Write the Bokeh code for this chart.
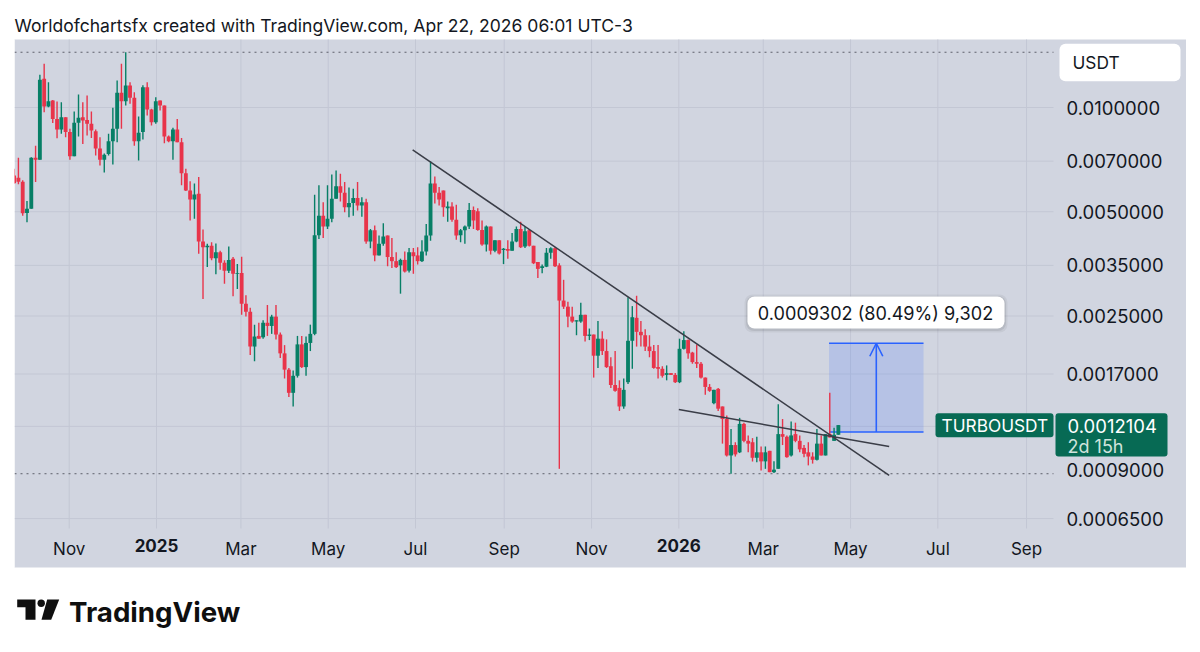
import numpy as np
import pandas as pd
from bokeh.embed import file_html
from bokeh.models import (Arrow, BoxAnnotation, ColumnDataSource, FixedTicker, Label,
                          LinearAxis, LogAxis, OpenHead, PolyAnnotation, PrintfTickFormatter, Range1d)
from bokeh.plotting import figure
from bokeh.resources import INLINE

PRICE_UNIT = 1e-4
first_bar = "2024-09-23 12:00"

opens = [63.6,62.7,61.0,49.6,51.0,71.6,70.6,121.0,100.7,104.7,
92.7,86.4,93.8,84.9,72.3,90.3,93.8,92.1,89.7,85.4,
76.2,70.6,73.4,79.9,86.8,110.3,104.3,115.8,106.7,79.9,
84.9,114.4,98.7,90.7,104.7,101.3,82.5,79.9,86.4,79.4,
64.6,57.6,54.2,56.4,41.0,39.5,39.9,36.7,38.2,35.6,
33.8,36.6,33.1,33.3,27.1,25.7,20.4,21.9,21.7,23.9,
23.4,24.9,22.1,19.5,17.5,15.0,16.8,20.7,17.8,20.9,
22.2,42.8,48.7,45.3,47.7,54.5,59.2,56.7,51.5,53.0,
54.8,52.1,53.3,41.0,44.2,37.4,40.4,42.7,37.0,36.0,
35.0,36.3,33.8,38.2,37.4,36.0,38.4,42.7,60.3,56.7,
57.6,51.2,51.8,47.4,42.8,44.2,45.3,50.6,50.2,44.3,
40.2,45.3,38.6,41.4,38.8,39.0,38.6,41.0,44.6,39.7,
44.2,39.9,35.8,34.4,34.7,38.1,39.2,35.0,27.7,26.6,
24.9,24.1,24.1,25.2,21.9,22.1,19.2,21.5,19.8,17.9,
15.8,15.5,13.7,16.1,21.2,24.7,22.5,22.0,20.4,19.8,
17.8,17.6,16.9,17.1,16.9,16.1,20.1,21.3,19.6,18.4,
18.2,16.6,15.6,14.0,15.4,13.7,12.6,9.89,10.6,10.1,
12.2,10.9,10.8,9.74,10.1,9.51,10.2,8.85,9.05,11.4,
11.2,9.89,11.4,10.9,10.4,10.1,9.82,9.61,10.7,9.89,
11.4,10.9,11.35]

highs = [66.5,71.6,61.6,53.7,71.8,77.6,124.3,133.7,118.3,105.2,
104.1,103.6,93.8,86.8,97.4,109.0,103.6,108.3,97.4,86.4,
82.1,73.7,84.0,99.8,119.7,133.7,144.4,118.3,110.7,94.2,
116.0,118.3,99.1,107.1,104.7,101.3,83.0,87.4,92.7,81.7,
66.5,61.2,60.3,63.0,44.4,40.4,40.8,40.5,38.6,36.2,
39.7,37.0,35.3,37.1,28.7,26.4,23.6,23.9,24.3,26.9,
25.2,26.9,22.4,20.6,17.7,17.4,21.9,21.9,21.8,23.6,
56.0,59.6,53.3,59.6,64.0,65.8,64.4,60.9,58.7,58.3,
60.9,55.1,54.5,44.6,45.6,42.7,46.3,42.7,42.0,38.2,
36.6,38.4,39.3,39.3,39.5,41.4,46.1,70.0,63.2,58.9,
57.6,53.5,53.3,52.4,44.6,45.6,53.0,51.8,51.2,47.2,
45.6,45.3,41.4,41.4,39.3,41.4,43.4,45.3,46.8,45.3,
44.6,39.9,35.8,35.2,39.3,39.5,39.5,35.5,31.8,27.5,
26.6,24.3,27.3,25.2,23.0,22.1,24.2,22.6,21.4,19.0,
19.8,16.3,16.5,28.3,26.7,28.6,24.2,22.9,22.0,20.6,
20.6,17.9,18.0,17.1,17.1,21.5,22.6,21.4,19.7,20.7,
18.4,16.6,15.9,15.3,15.5,13.7,12.9,11.8,10.8,12.7,
12.3,11.3,11.1,11.2,10.5,10.5,10.2,9.51,13.9,12.6,
11.3,12.4,12.3,11.3,10.6,10.8,10.1,11.8,11.3,11.4,
15.0,11.9,12.104]

lows = [60.3,60.0,48.7,46.6,51.0,60.9,70.6,96.9,100.2,90.2,
81.5,84.0,82.1,70.6,72.3,82.5,78.5,83.0,81.7,72.7,
68.0,64.9,72.7,68.4,79.4,86.8,101.3,102.5,77.6,70.3,
80.9,94.8,88.7,89.7,98.0,78.9,79.4,70.6,79.4,59.6,
57.4,47.2,47.7,37.8,28.0,34.6,36.2,33.0,34.0,31.0,
33.3,28.5,29.9,25.2,24.9,19.3,18.5,21.5,21.5,21.9,
22.2,21.4,18.9,16.5,14.6,13.7,16.6,17.7,16.8,19.8,
22.0,41.7,42.0,44.6,46.6,54.5,53.5,49.8,48.2,48.7,
50.4,48.4,40.4,39.2,36.0,37.4,39.9,34.8,34.4,34.4,
29.0,33.4,33.4,33.1,35.2,35.8,37.4,41.2,52.8,52.1,
48.4,46.8,46.8,41.5,40.8,40.4,44.6,44.6,44.1,39.9,
38.4,37.6,38.2,37.6,35.3,36.6,38.6,40.8,39.3,39.3,
39.7,35.3,32.2,33.2,34.6,36.6,34.6,9.05,26.2,23.2,
23.9,22.0,23.9,21.1,21.3,16.6,17.7,19.3,17.7,15.5,
15.1,13.3,13.5,15.9,17.6,20.4,20.4,19.8,19.0,17.6,
16.5,16.6,16.3,16.9,16.0,16.0,20.0,18.8,18.2,17.7,
16.5,14.8,15.1,13.9,13.3,10.7,9.82,8.76,9.82,10.05,
10.8,10.1,9.50,9.46,8.95,9.05,8.85,8.80,9.05,10.6,
9.74,9.82,10.8,10.1,9.78,9.26,9.37,9.57,9.89,9.89,
11.15,10.9,11.35]

closes = [60.4,61.0,49.5,51.0,71.6,70.6,120.2,100.7,104.3,92.7,
86.4,93.8,84.9,72.3,90.3,93.4,91.7,89.7,85.8,76.2,
70.6,73.1,79.9,86.8,110.3,104.3,115.8,106.7,79.9,84.5,
114.4,98.7,90.7,104.3,101.3,82.5,79.9,86.4,79.4,64.6,
57.6,54.2,56.1,41.0,39.5,39.9,36.7,38.2,35.6,33.8,
36.3,33.1,33.3,27.1,25.7,20.4,21.8,21.5,23.9,23.4,
24.9,22.1,19.5,17.5,15.0,16.8,20.7,17.8,20.9,22.2,
42.8,48.7,45.3,47.7,54.5,59.2,56.7,51.5,53.0,54.8,
52.1,53.3,41.0,44.2,37.4,40.4,42.4,37.0,36.0,34.6,
36.3,33.6,38.2,37.2,36.0,38.4,42.7,60.3,56.7,54.2,
51.5,51.8,47.4,42.7,44.2,45.3,50.6,47.2,44.3,40.2,
45.3,38.6,41.4,37.9,39.1,38.6,41.0,44.6,39.5,43.9,
39.9,35.5,34.2,34.8,38.1,39.2,34.8,27.7,26.6,24.9,
24.1,24.3,25.2,21.9,22.1,19.2,21.5,19.8,17.8,15.8,
15.2,13.7,15.3,21.2,24.8,22.5,22.0,20.4,19.8,17.7,
17.6,16.8,17.1,16.9,16.1,20.1,21.3,19.5,18.4,18.2,
16.6,15.6,15.2,15.3,13.5,12.6,9.89,10.6,9.96,12.2,
10.9,10.7,9.74,10.1,9.51,10.1,8.85,9.0,11.4,11.2,
9.78,11.3,10.9,10.3,10.0,9.82,9.61,10.7,9.89,11.4,
11.15,11.35,12.104]

price_ticks = [0.01, 0.007, 0.005, 0.0035, 0.0025, 0.0017, 0.0009, 0.00065]
grid_prices = [0.01, 0.007, 0.005, 0.0035, 0.0025, 0.0017, 0.0012, 0.00065]
month_ticks = ["2024-11-01", "2025-03-01", "2025-05-01", "2025-07-01", "2025-09-01", "2025-11-01",
               "2026-03-01", "2026-05-01", "2026-07-01", "2026-09-01"]
month_labels = ["Nov", "Mar", "May", "Jul", "Sep", "Nov", "Mar", "May", "Jul", "Sep"]
year_ticks = ["2025-01-01", "2026-01-01"]
year_labels = ["2025", "2026"]

high_price = 144.4
low_price = 8.76
trend_a_dates = ["2025-06-29", "2026-05-28"]
trend_a_prices = [75.5, 8.67]
trend_b_dates = ["2026-01-01", "2026-05-28"]
trend_b_prices = [13.42, 10.5]
long_dates = ["2026-04-16", "2026-06-21"]
long_arrow_date = "2026-05-19"
long_entry = 11.557
long_target = 20.859
last_price_text = "0.0012104"

DAY_MS = 86400000
PX_PER_DAY = 1.431
PX_PER_LN = 150.4
GREEN = "#077f66"
RED = "#e8344a"
TAG = "#076a54"
BLUE = "#2962ff"
PANEL = "#d1d5e0"
GRID = "#c3c7d4"
INK = "#131722"
FONT = "Inter"
W, H = 1200, 652


def ms(s):
    return pd.Timestamp(s).value // 10**6


def time_at(px):
    return ms("2025-01-01") + (px - 156) / PX_PER_DAY * DAY_MS


def price_at(py):
    return 0.01 * np.exp(-(py - 107) / PX_PER_LN)


def sx(x):
    return x


def sy(y):
    return H - y


dates = pd.date_range(first_bar, periods=len(closes), freq="3D")
o, h, l, c = [np.array(a) * PRICE_UNIT for a in (opens, highs, lows, closes)]
src = ColumnDataSource(dict(x=dates, o=o, h=h, l=l, c=c,
                            color=[GREEN if b >= a else RED for a, b in zip(o, c)]))

p = figure(width=W, height=H, output_backend="svg", toolbar_location=None,
           x_axis_type="datetime", y_axis_type="log", x_axis_location=None, y_axis_location=None,
           x_range=Range1d(time_at(0), time_at(W)),
           y_range=Range1d(price_at(H), price_at(0)),
           min_border=0, min_border_left=0, min_border_right=0, min_border_top=0, min_border_bottom=0,
           background_fill_color="white", border_fill_color="white", outline_line_color=None)
p.grid.visible = False


def box(x0, x1, y0, y1, color, alpha=1.0, radius=0, level="annotation"):
    b = BoxAnnotation(left=sx(x0), right=sx(x1), top=sy(y0), bottom=sy(y1),
                      left_units="screen", right_units="screen", top_units="screen", bottom_units="screen",
                      fill_color=color, fill_alpha=alpha, line_color=None, border_radius=radius,
                      level=level, editable=False)
    p.add_layout(b)
    return b


def text(x, y, s, size, color=INK, align="left", style="normal", level="overlay"):
    p.add_layout(Label(x=sx(x), y=sy(y), x_units="screen", y_units="screen", text=s,
                       text_font=FONT, text_font_size=f"{size}px", text_color=color,
                       text_align=align, text_baseline="middle", text_font_style=style, level=level))


# panel and grid lines
box(14, 1185.5, 39, 567, PANEL, level="image")
v_ticks = [ms(d) for d in month_ticks + year_ticks]
p.segment(x0=v_ticks, x1=v_ticks, y0=[price_at(528)] * len(v_ticks), y1=[price_at(39)] * len(v_ticks),
          line_color=GRID, line_width=1, level="underlay")
p.segment(x0=[time_at(14)] * len(grid_prices), x1=[time_at(1053)] * len(grid_prices),
          y0=grid_prices, y1=grid_prices, line_color=GRID, line_width=1, level="underlay")

# axes
yaxis = LogAxis(ticker=FixedTicker(ticks=price_ticks), formatter=PrintfTickFormatter(format="%.7f"),
                fixed_location=time_at(1055),
                axis_line_color=None, major_tick_line_color=None, minor_tick_line_color=None,
                major_label_standoff=5, major_label_text_font=FONT, major_label_text_font_size="18.5px",
                major_label_text_color=INK)
p.add_layout(yaxis, "right")
xfix = price_at(532)
xaxis = LinearAxis(ticker=FixedTicker(ticks=[ms(d) for d in month_ticks]),
                   major_label_overrides={ms(d): s for d, s in zip(month_ticks, month_labels)},
                   fixed_location=xfix, axis_line_color=None, major_tick_line_color=None,
                   minor_tick_line_color=None, major_label_standoff=0, major_label_text_font=FONT,
                   major_label_text_font_size="17px", major_label_text_color=INK)
p.add_layout(xaxis, "below")
xaxis2 = LinearAxis(ticker=FixedTicker(ticks=[ms(d) for d in year_ticks]),
                    major_label_overrides={ms(d): s for d, s in zip(year_ticks, year_labels)},
                    fixed_location=xfix, axis_line_color=None, major_tick_line_color=None,
                    minor_tick_line_color=None, major_label_standoff=0, major_label_text_font=FONT,
                    major_label_text_font_size="17px", major_label_text_font_style="bold",
                    major_label_text_color=INK)
p.add_layout(xaxis2, "below")

# high / low dotted lines
for lvl in (high_price, low_price):
    p.line([time_at(14), time_at(1053)], [lvl * PRICE_UNIT] * 2,
           line_color="#5d606b", line_width=1, line_dash=[2, 4])

# long position tool
ld = [pd.Timestamp(d) for d in long_dates]
p.quad(left=[ld[0]], right=[ld[1]], bottom=[long_entry * PRICE_UNIT], top=[long_target * PRICE_UNIT],
       fill_color=BLUE, fill_alpha=0.16, line_color=None)
for lvl in (long_entry, long_target):
    p.line(ld, [lvl * PRICE_UNIT] * 2, line_color=BLUE, line_width=1.6)
p.add_layout(Arrow(x_start=ms(long_arrow_date), x_end=ms(long_arrow_date),
                   y_start=long_entry * PRICE_UNIT, y_end=long_target * PRICE_UNIT,
                   line_color=BLUE, line_width=1.6,
                   end=OpenHead(size=13, line_color=BLUE, line_width=1.6)))

# candles
p.segment(x0="x", x1="x", y0="l", y1="h", color="color", line_width=1.4, source=src)
p.vbar(x="x", width=2.7 * DAY_MS, bottom="o", top="c", fill_color="color", line_color=None, source=src)

# trend lines
p.line([pd.Timestamp(d) for d in trend_a_dates], np.array(trend_a_prices) * PRICE_UNIT, line_color="#3a3d47", line_width=1.5)
p.line([pd.Timestamp(d) for d in trend_b_dates], np.array(trend_b_prices) * PRICE_UNIT, line_color="#3a3d47", line_width=1.5)

# the panel clips the first candle on its left edge
box(0, 14, 39, 567, "white", level="overlay")

# labels / tags
box(1059, 1180, 43.3, 80.7, "white", radius=6, level="overlay")
text(1072, 62, "USDT", 17.3)
box(935, 1053, 412.7, 436.7, TAG, radius=3, level="overlay")
text(941, 425, "TURBOUSDT", 17.3, "white")
box(1055, 1167, 412.7, 456, TAG, radius=3, level="overlay")
text(1067, 425.5, last_price_text, 18.5, "white")
text(1067, 446, "2d 15h", 18, "#cfe3dc")
for grow, a in ((3, 0.05), (1.5, 0.08)):
    box(747 - grow, 1004 + grow, 296 - grow + 1, 328 + grow + 1, "#000000", alpha=a, radius=8, level="overlay")
box(747, 1004, 296, 328, "white", radius=7, level="overlay")
text(875, 312, "0.0009302 (80.49%) 9,302", 18.1, align="center")

# header / logo
text(14, 25, "Worldofchartsfx created with TradingView.com, Apr 22, 2026 06:01 UTC-3", 17.55)
text(68.5, 611, "TradingView", 27.7, "#0f0f0f", style="bold")
for xs, ys in (((16.7, 35, 35, 25, 25, 16.7), (599, 599, 619.3, 619.3, 606.7, 606.7)),
               ((46.7, 58.7, 50.7, 41), (599, 599, 619.3, 619.3))):
    p.add_layout(PolyAnnotation(xs=[sx(v) for v in xs], ys=[sy(v) for v in ys], xs_units="screen", ys_units="screen",
                                fill_color="#0f0f0f", fill_alpha=1, line_color=None, level="overlay", editable=False))
box(37, 44.4, 599, 606.4, "#0f0f0f", radius=4, level="overlay")

open("out.html", "w").write(file_html(p, INLINE))
